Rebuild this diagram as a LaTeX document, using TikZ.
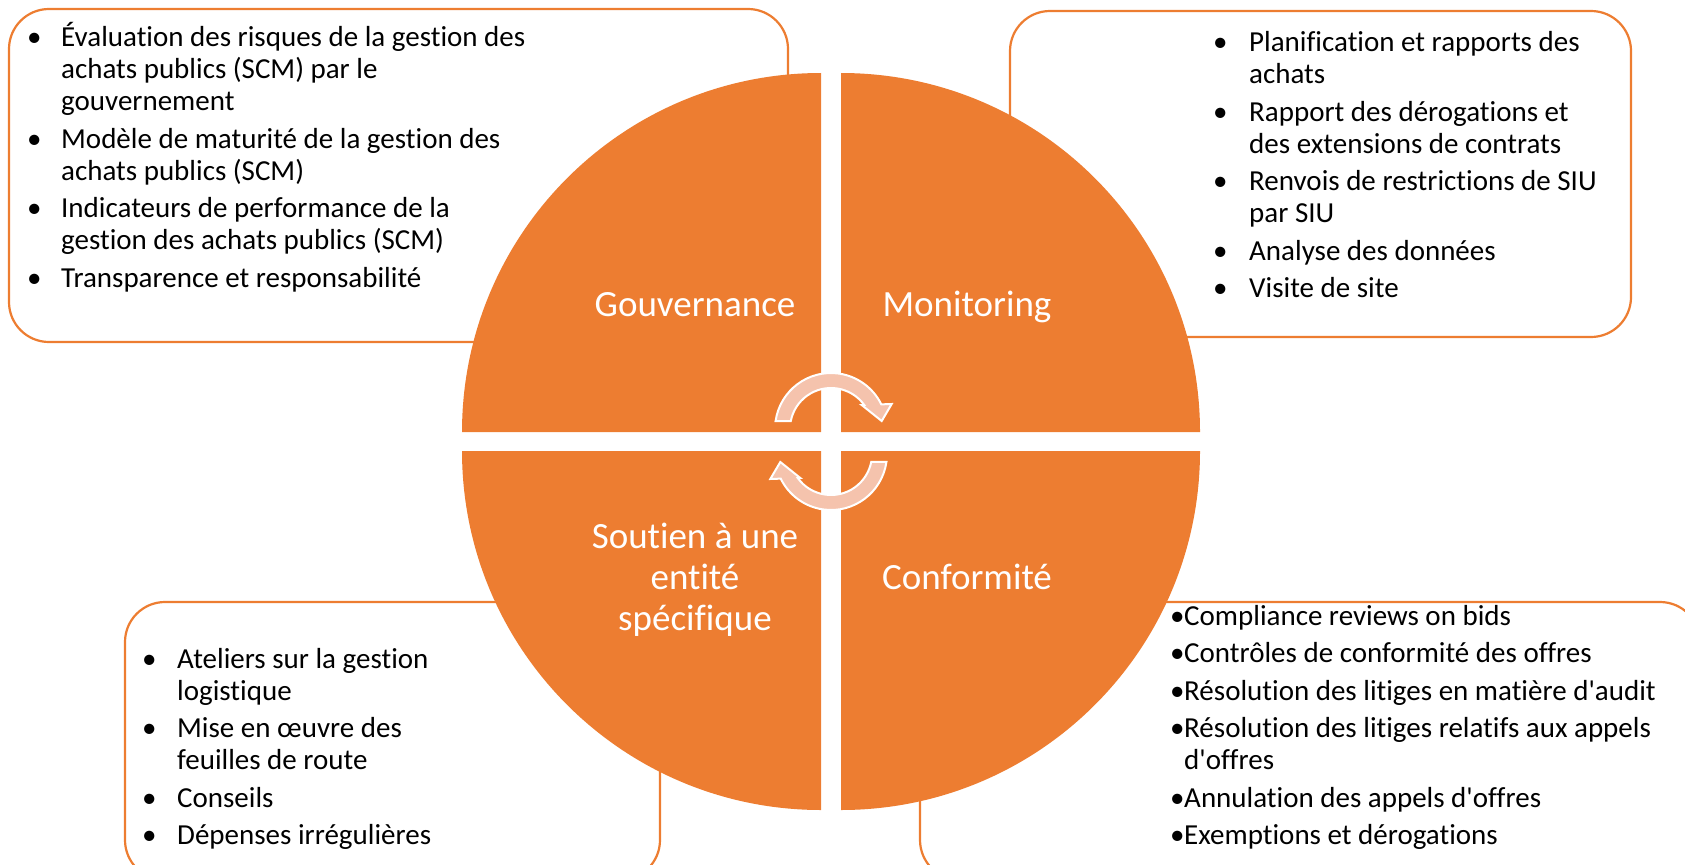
\documentclass[tikz,border=0pt]{standalone}
\usepackage{fontspec}
\setmainfont{Carlito}[Ligatures={TeXOff,CommonOff}]

\definecolor{accent}{HTML}{ED7D31}
\definecolor{peach}{HTML}{F5C3AD}

\newcommand{\lstfont}{\fontsize{29}{32}\selectfont}
\newcommand{\quadfont}{\fontsize{37}{41}\selectfont}

\begin{document}
\begin{tikzpicture}[x=1pt, y=1pt,
    quad/.style={fill=accent},
    panel/.style={draw=accent, line width=2.2pt, rounded corners=40pt, fill=white},
    cyc/.style={fill=peach, draw=white, line width=2pt},
    quadtext/.style={text=white, font=\quadfont, inner sep=0pt, anchor=base},
    bullets/.style={font=\lstfont, inner sep=0pt, anchor=base west}]
    \useasboundingbox (0,0) rectangle (1685,-864);
    \clip (0,0) rectangle (1685,-864);

    % side panels
    \draw[panel] (9,-9) rectangle (788,-342);
    \draw[panel] (1010,-11) rectangle (1631,-337);
    \draw[panel] (125,-602) rectangle (660,-880);
    \draw[panel] (920,-602) rectangle (1700,-880);

    % four quarters of the disc
    \foreach \sx/\sy/\a in {-1/1/90, 1/1/0, 1/-1/-90, -1/-1/180}
        \fill[quad] (831+10*\sx,-441.5+9.5*\sy) -- ++(\a:359)
            arc[start angle=\a, delta angle=90, radius=359] -- cycle;

    % curved arrows in the middle
    \foreach \r in {0,180}
        \filldraw[cyc, rotate around={\r:(831,-441.5)}, shift={(831,-429)}]
            (171.8:56) arc[start angle=171.8, end angle=26.1, radius=56]
            -- (60.7,25) -- (50.7,8) -- (30.7,24) -- (36:41)
            arc[start angle=36, end angle=168.8, radius=41] -- cycle;

    % quarter titles
    \node[quadtext] (gov) at (695,-316) {Gouvernance};
    \node[quadtext] (mon) at (967,-316) {Monitoring};
    \node[quadtext] (conf) at (967,-589) {Conformité};
    \node[quadtext] (supp) at (695,-548) {\begin{tabular}[t]{@{}c@{}}Soutien à une\\entité\\spécifique\end{tabular}};

    % lists
    \node[bullets] (govlist) at (27,-46.7) {\begin{tabular}[t]{@{}p{34pt}@{}l@{}}
        • & Évaluation des risques de la gestion des\\
          & achats publics (SCM) par le\\
          & gouvernement\\[5.5pt]
        • & Modèle de maturité de la gestion des\\
          & achats publics (SCM)\\[5.5pt]
        • & Indicateurs de performance de la\\
          & gestion des achats publics (SCM)\\[5.5pt]
        • & Transparence et responsabilité
    \end{tabular}};
    \node[bullets] (monlist) at (1213,-51.7) {\begin{tabular}[t]{@{}p{36pt}@{}l@{}}
        • & Planification et rapports des\\
          & achats\\[5.5pt]
        • & Rapport des dérogations et\\
          & des extensions de contrats\\[5.5pt]
        • & Renvois de restrictions de SIU\\
          & par SIU\\[5.5pt]
        • & Analyse des données\\[5.5pt]
        • & Visite de site
    \end{tabular}};
    \node[bullets] (supplist) at (142,-668) {\begin{tabular}[t]{@{}p{35pt}@{}l@{}}
        • & Ateliers sur la gestion\\
          & logistique\\[5.5pt]
        • & Mise en œuvre des\\
          & feuilles de route\\[5.5pt]
        • & Conseils\\[5.5pt]
        • & Dépenses irrégulières
    \end{tabular}};
    \node[bullets] (conflist) at (1170,-625) {\begin{tabular}[t]{@{}p{14pt}@{}l@{}}
        • & Compliance reviews on bids\\[5.5pt]
        • & Contrôles de conformité des offres\\[5.5pt]
        • & Résolution des litiges en matière d'audit\\[5.5pt]
        • & Résolution des litiges relatifs aux appels\\
          & d'offres\\[5.5pt]
        • & Annulation des appels d'offres\\[5.5pt]
        • & Exemptions et dérogations
    \end{tabular}};
\end{tikzpicture}
\end{document}
